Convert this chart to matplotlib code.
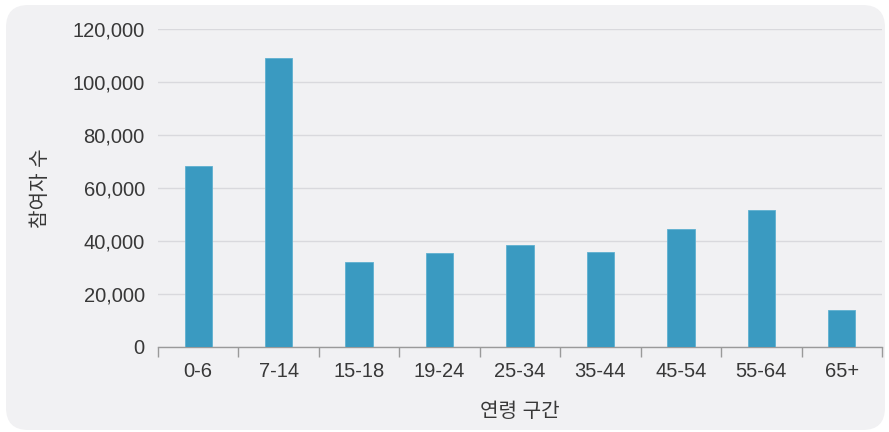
import matplotlib
matplotlib.use("Agg")
import matplotlib.pyplot as plt
from matplotlib.patches import FancyBboxPatch
from matplotlib.ticker import FuncFormatter, FixedLocator
import numpy as np

plt.rcParams['font.family'] = ['Liberation Sans', 'Noto Sans CJK KR', 'DejaVu Sans']

age_groups = ["0-6", "7-14", "15-18", "19-24", "25-34", "35-44", "45-54", "55-64", "65+"]
participants = [68300, 109000, 32200, 35600, 38400, 35800, 44400, 51700, 13900]
y_ticks = [0, 20000, 40000, 60000, 80000, 100000, 120000]

bar_color = "#3a9ac1"
panel_color = "#f1f1f3"
text_color = "#383838"
label_size = 14.5

fig = plt.figure(figsize=(8.89, 4.32), dpi=100)
fig.patch.set_facecolor("white")

# rounded background panel
panel = FancyBboxPatch((6 / 889, 2 / 432), 879 / 889, 425 / 432,
                       boxstyle="round,pad=0,rounding_size=0.025",
                       transform=fig.transFigure, facecolor=panel_color,
                       edgecolor="none", zorder=-10, mutation_aspect=889 / 432)
fig.patches.append(panel)

ax = fig.add_axes([158 / 889, (432 - 347) / 432, (882 - 158) / 889, (347 - 29) / 432])
ax.set_facecolor("none")
ax.set_zorder(1)

x = np.arange(len(age_groups))
ax.bar(x, participants, width=0.34, color=bar_color, edgecolor="#5fb0d0",
       linewidth=0.6, zorder=3)

ax.set_xlim(-0.5, len(age_groups) - 0.5)
ax.set_ylim(0, 120000)
ax.yaxis.set_major_locator(FixedLocator(y_ticks))
ax.yaxis.set_major_formatter(FuncFormatter(lambda v, p: f"{int(v):,}"))
ax.grid(axis="y", color="#d9d9dd", linewidth=1.0, zorder=0)
ax.set_axisbelow(True)

ax.set_xticks(x)
ax.set_xticklabels(age_groups)
ax.set_xticks(np.arange(len(age_groups) + 1) - 0.5, minor=True)
ax.tick_params(axis="x", which="major", length=0, pad=11, labelsize=label_size, labelcolor=text_color)
ax.tick_params(axis="x", which="minor", length=7, width=1, color="#9a9a9a", direction="out")
ax.tick_params(axis="y", length=0, pad=9.5, labelsize=label_size, labelcolor=text_color)

for side in ["top", "right", "left"]:
    ax.spines[side].set_visible(False)
ax.spines["bottom"].set_color("#9a9a9a")
ax.spines["bottom"].set_linewidth(1.0)

ax.set_xlabel("연령 구간", fontsize=label_size, color=text_color, labelpad=15)
ax.set_ylabel("참여자 수", fontsize=label_size, color=text_color, labelpad=16.5)

fig.savefig("out.png", dpi=100, facecolor=fig.get_facecolor())
